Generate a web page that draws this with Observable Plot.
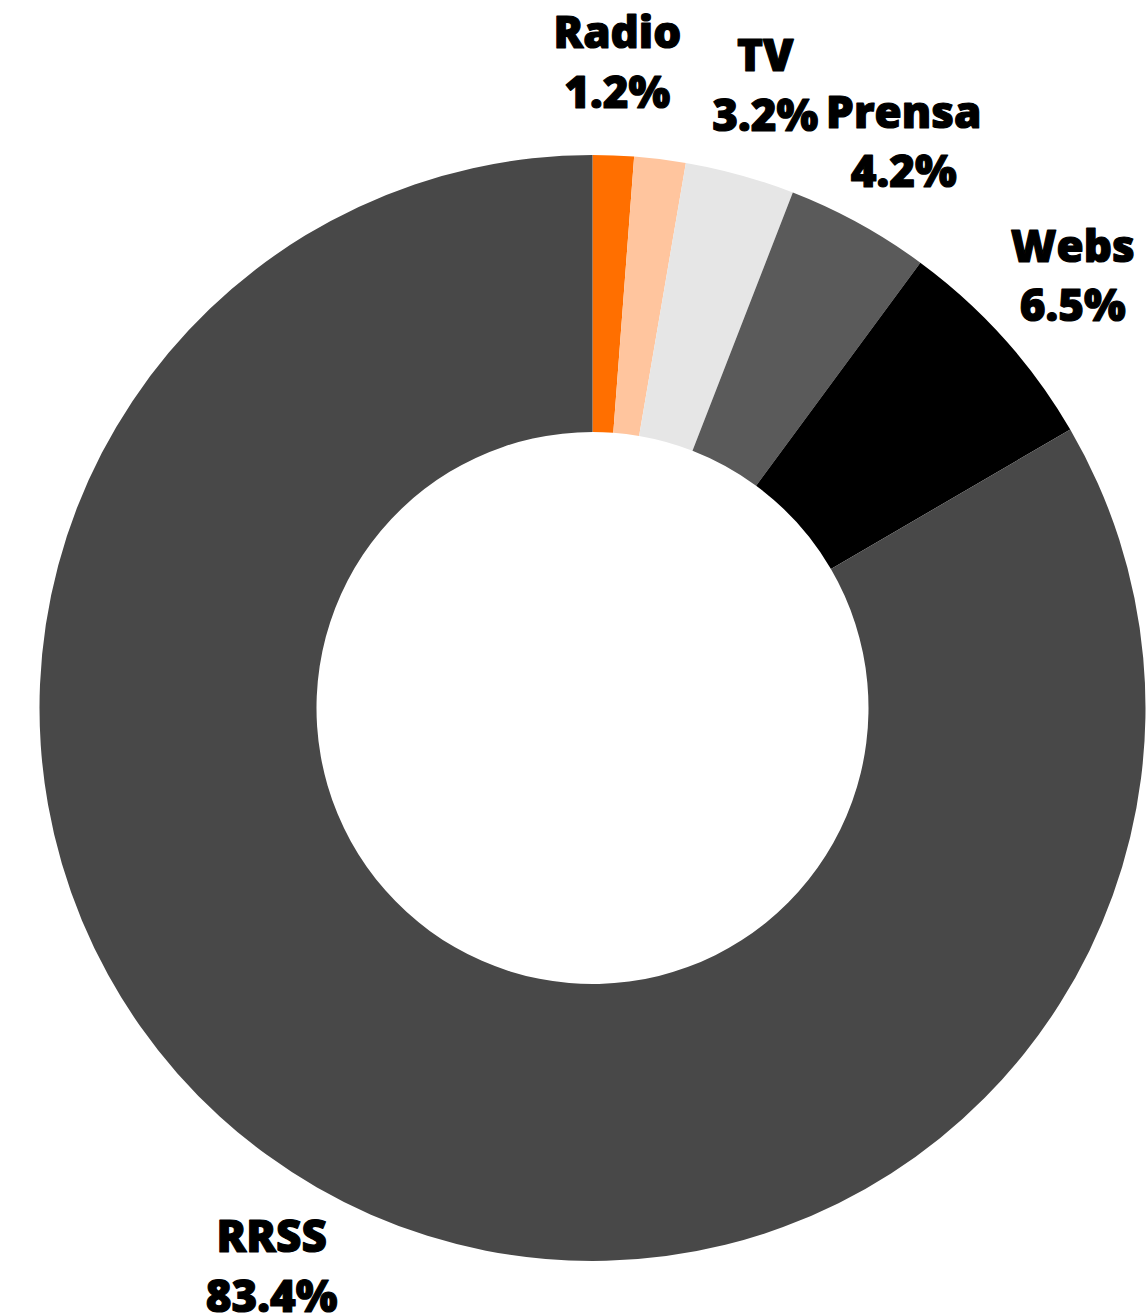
<!DOCTYPE html>
<html>
<head>
<meta charset="utf-8">
<script src="https://cdn.jsdelivr.net/npm/d3@7"></script>
<script src="https://cdn.jsdelivr.net/npm/@observablehq/plot@0.6"></script>
<style>
  html, body { margin: 0; padding: 0; background: #fff; }
  #chart svg { display: block; }
</style>
</head>
<body>
<div id="chart"></div>
<script>
// Data
const categories = ["Radio", "Otros", "TV", "Prensa", "Webs", "RRSS"];
const values = [1.2, 1.5, 3.2, 4.2, 6.5, 83.4];
const labelled = [true, false, true, true, true, true];
const colors = ["#ff6f00", "#ffc59e", "#e6e6e6", "#5a5a5a", "#000000", "#484848"];

// Layout (pixel units in data space)
const W = 1146, H = 1316;
const CX = 592.5, CY = 708;
const R_OUT = 553, R_IN = 276, R_LABEL = 645;

const rows = categories.map((c, i) => ({name: c, value: values[i], color: colors[i], labelled: labelled[i]}));
const pie = d3.pie().value(d => d.value).sort(null).startAngle(0).endAngle(2 * Math.PI);
const arcs = pie(rows);
arcs.forEach(a => { a.mid = (a.startAngle + a.endAngle) / 2; });

const fmt = v => v.toFixed(1) + "%";

function arcMark(index, scales) {
  const x = scales.x, y = scales.y;
  const cx = x(0), cy = y(0);
  const k = Math.abs(x(1) - x(0));
  const g = d3.create("svg:g");
  const path = d3.arc().innerRadius(R_IN * k).outerRadius(R_OUT * k);
  g.selectAll("path")
    .data(arcs)
    .join("path")
    .attr("transform", `translate(${cx},${cy})`)
    .attr("d", path)
    .attr("fill", d => d.data.color);
  return g.node();
}

const labelData = arcs.filter(a => a.data.labelled);

const chart = Plot.plot({
  width: W,
  height: H,
  margin: 0,
  x: {domain: [-CX, W - CX], axis: null},
  y: {domain: [-(H - CY), CY], axis: null},
  marks: [
    arcMark,
    Plot.text(labelData, {
      x: d => R_LABEL * Math.sin(d.mid),
      y: d => R_LABEL * Math.cos(d.mid),
      text: d => d.data.name + "\n" + fmt(d.data.value),
      fontSize: 44,
      fontWeight: 800,
      fontFamily: "'Open Sans', sans-serif",
      lineHeight: 1.36,
      dy: -5,
      fill: "#000",
      stroke: "#000",
      strokeWidth: 1.2,
      textAnchor: "middle"
    })
  ]
});
document.getElementById("chart").appendChild(chart);
</script>
</body>
</html>
